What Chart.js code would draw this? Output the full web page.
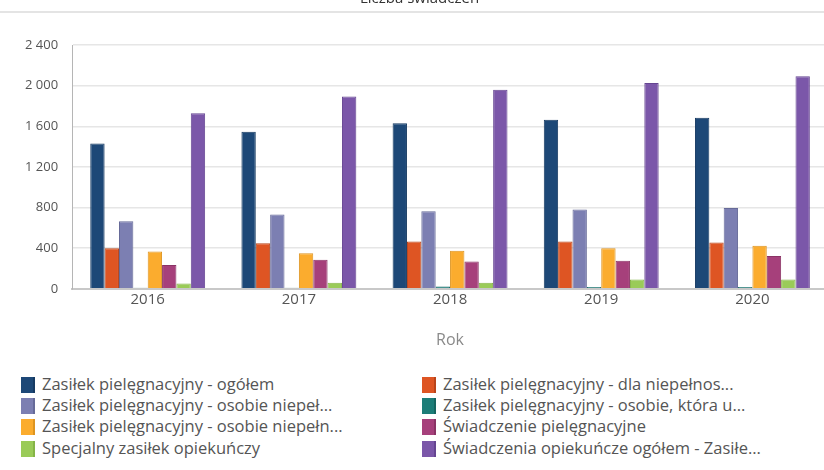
<!DOCTYPE html>
<html>
<head>
<meta charset="utf-8">
<script src="https://cdn.jsdelivr.net/npm/chart.js@4/dist/chart.umd.min.js"></script>
<style>
  body { margin: 0; width: 824px; height: 470px; overflow: hidden; position: relative; background: #fff; font-family: "Open Sans", sans-serif; }
  #wrap { position: absolute; left: 0; top: -16px; width: 830px; height: 366px; }
  #topline { position: absolute; left: 0; top: 11px; width: 824px; height: 2px; background: #e4e4e4; }
  #legend { position: absolute; left: 0; top: 373px; width: 824px; }
  .item { position: absolute; height: 22px; line-height: 22px; font-size: 16.5px; color: #555; white-space: nowrap; }
  .box { display: inline-block; width: 12px; height: 16px; vertical-align: -3px; margin-right: 7px; }
</style>
</head>
<body>
<div id="wrap"><canvas id="myChart"></canvas></div>
<div id="topline"></div>
<div id="legend"></div>
<script>
var years = ['2016', '2017', '2018', '2019', '2020'];

var seriesNames = [
    'Zasiłek pielęgnacyjny - ogółem',
    'Zasiłek pielęgnacyjny - dla niepełnos...',
    'Zasiłek pielęgnacyjny - osobie niepeł...',
    'Zasiłek pielęgnacyjny - osobie, która u...',
    'Zasiłek pielęgnacyjny -  osobie niepełn...',
    'Świadczenie pielęgnacyjne',
    'Specjalny zasiłek opiekuńczy',
    'Świadczenia opiekuńcze ogółem - Zasiłe...'
];

var ogolem = [1430, 1545, 1630, 1663, 1683];
var dlaNiepelnosprawnego = [400, 449, 466, 466, 456];
var osobieNiepelnosprawnej = [664, 731, 764, 780, 796];
var osobieKtora = [10, 10, 22, 17, 17];
var osobieNiepelnej75 = [367, 350, 374, 400, 423];
var swiadczeniePiel = [235, 285, 268, 275, 324];
var specjalny = [53, 60, 60, 92, 92];
var opiekuncze = [1729, 1894, 1960, 2026, 2093];

var yTicks = [0, 400, 800, 1200, 1600, 2000, 2400];

var colors = ['#1d4877', '#de5523', '#7c7fb2', '#1c7d78', '#fbac2e', '#a6407b', '#9acb58', '#7b57a9'];
var borders = ['#163a62', '#b9441a', '#666a98', '#156560', '#dd9420', '#8a3365', '#85b447', '#654591'];

var values = [ogolem, dlaNiepelnosprawnego, osobieNiepelnosprawnej, osobieKtora, osobieNiepelnej75, swiadczeniePiel, specjalny, opiekuncze];

var datasets = [];
for (var i = 0; i < seriesNames.length; i++) {
    datasets.push({
        label: seriesNames[i],
        data: values[i],
        backgroundColor: colors[i],
        borderColor: borders[i],
        borderWidth: 1,
        barPercentage: 1,
        categoryPercentage: 0.76
    });
}

function fmt(v) {
    return String(v).replace(/\B(?=(\d{3})+(?!\d))/g, ' ');
}

var ctx = document.getElementById('myChart').getContext('2d');
var chart = new Chart(ctx, {
    type: 'bar',
    data: { labels: years, datasets: datasets },
    options: {
        responsive: true,
        maintainAspectRatio: false,
        animation: false,
        layout: { padding: { left: 11, right: 2, top: 0, bottom: 0 } },
        plugins: {
            legend: { display: false },
            tooltip: { enabled: false },
            title: {
                display: true,
                text: 'Liczba świadczeń',
                color: '#333',
                font: { family: 'Open Sans', size: 15, weight: 'normal' },
                padding: { top: 6, bottom: 37 }
            }
        },
        scales: {
            x: {
                grid: { display: false, drawTicks: false },
                border: { color: '#c8c8c8', width: 2 },
                ticks: { color: '#555', font: { family: 'Open Sans', size: 15 }, padding: 2 },
                title: { display: true, text: 'Rok', color: '#8a8a8a', font: { family: 'Open Sans', size: 16 }, padding: { top: 20, bottom: 0 } }
            },
            y: {
                min: 0,
                max: 2400,
                afterBuildTicks: function (axis) {
                    axis.ticks = yTicks.map(function (v) { return { value: v }; });
                },
                grid: { color: '#e6e6e6', drawTicks: false, lineWidth: 1.5 },
                border: { color: '#b5b5b5', width: 1 },
                ticks: {
                    color: '#555',
                    font: { family: 'Open Sans', size: 13 },
                    padding: 14,
                    callback: function (v) { return fmt(v); }
                }
            }
        }
    }
});

// legend in two columns, built from the chart's datasets
var legend = document.getElementById('legend');
var colX = [21, 422];
var rowY = [0, 21, 42, 64];
chart.data.datasets.forEach(function (ds, i) {
    var el = document.createElement('div');
    el.className = 'item';
    el.style.left = colX[i % 2] + 'px';
    el.style.top = rowY[Math.floor(i / 2)] + 'px';
    el.innerHTML = '<span class="box" style="background:' + ds.backgroundColor + ';border-right:2px solid ' + ds.borderColor + '"></span>' + ds.label;
    legend.appendChild(el);
});
</script>
</body>
</html>
